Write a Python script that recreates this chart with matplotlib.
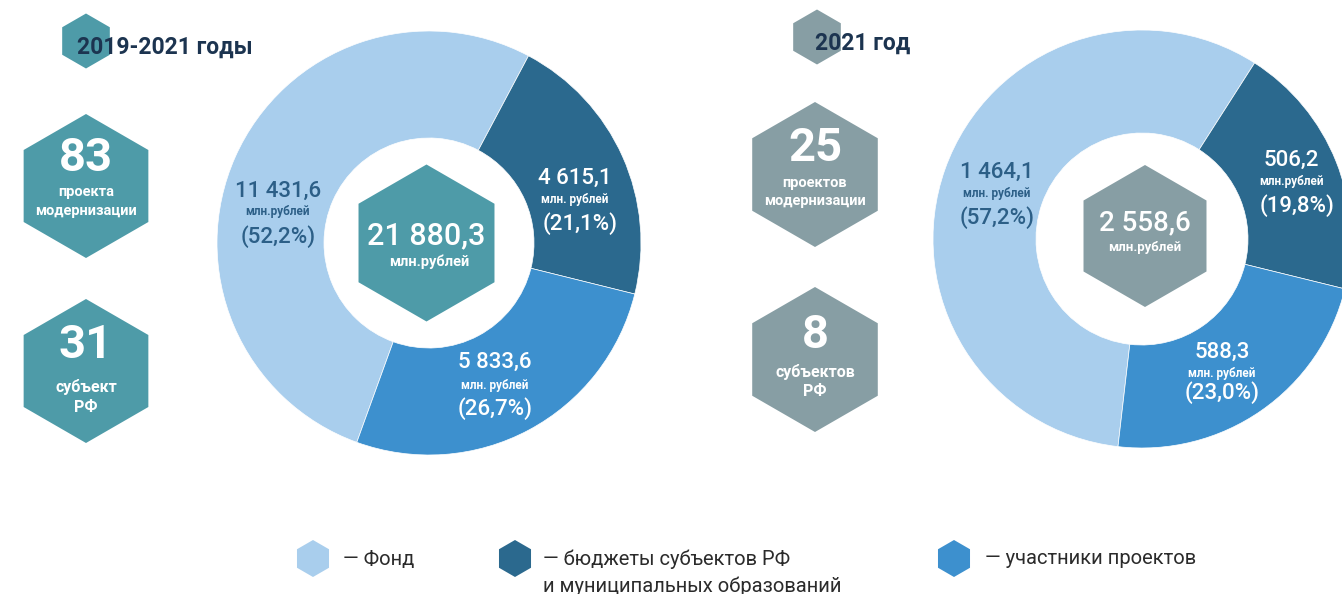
import matplotlib
matplotlib.use("Agg")
import matplotlib.pyplot as plt
from matplotlib.patches import RegularPolygon

plt.rcParams['font.family'] = ['Roboto', 'DejaVu Sans']

# ---- data ----
categories = ["Фонд", "бюджеты субъектов РФ\nи муниципальных образований", "участники проектов"]
values_total = [11431.6, 4615.1, 5833.6]
labels_total = ["11 431,6", "4 615,1", "5 833,6"]
units_total = ["млн.рублей", "млн. рублей", "млн. рублей"]
pct_total = ["(52,2%)", "(21,1%)", "(26,7%)"]
sum_total = "21 880,3"

values_2021 = [1464.1, 506.2, 588.3]
labels_2021 = ["1 464,1", "506,2", "588,3"]
units_2021 = ["млн. рублей", "млн.рублей", "млн. рублей"]
pct_2021 = ["(57,2%)", "(19,8%)", "(23,0%)"]
sum_2021 = "2 558,6"

title_total = "2019-2021 годы"
title_2021 = "2021 год"
projects_total, projects_total_lbl = "83", ["проекта", "модернизации"]
regions_total, regions_total_lbl = "31", ["субъект", "РФ"]
projects_2021, projects_2021_lbl = "25", ["проектов", "модернизации"]
regions_2021, regions_2021_lbl = "8", ["субъектов", "РФ"]

# ---- style ----
C_LIGHT = "#A9CEED"
C_DARK = "#2B698E"
C_MID = "#3D90CE"
C_TEAL = "#4E9BA8"
C_GRAY = "#879EA4"
C_TITLE = "#1C3450"
C_LBL = "#2C5F87"
colors = [C_LIGHT, C_DARK, C_MID]

W, H = 1342, 594
fig = plt.figure(figsize=(W / 100, H / 100), dpi=100)
ax = fig.add_axes([0, 0, 1, 1])


def Y(y):
    return H - y


def hexagon(x, y, r, color, z=2):
    ax.add_patch(RegularPolygon((x, Y(y)), 6, radius=r, orientation=0,
                                facecolor=color, edgecolor='none', zorder=z))


def txt(x, y, s, size, color='white', weight='bold', ha='center', z=5, **kw):
    ax.text(x, Y(y), s, fontsize=size, color=color, fontweight=weight,
            ha=ha, va='center', zorder=z, **kw)


# left donut: Fond wedge ends at ~62 deg
cxL, cyL, RL, rL = 429, 243, 212, 105
fracL = values_total[0] / sum(values_total)
ax.pie(values_total, colors=colors, startangle=62 + fracL * 360, counterclock=False,
       center=(cxL, Y(cyL)), radius=RL,
       wedgeprops=dict(width=RL - rL, edgecolor='white', linewidth=0.5))

cxR, cyR, RR, rR = 1142, 239, 209, 106
fracR = values_2021[0] / sum(values_2021)
ax.pie(values_2021, colors=colors, startangle=57.4 + fracR * 360, counterclock=False,
       center=(cxR, Y(cyR)), radius=RR,
       wedgeprops=dict(width=RR - rR, edgecolor='white', linewidth=0.5))

# center hexagons
hexagon(426.5, 243, 78.5, C_TEAL)
txt(426, 236, sum_total, 22, weight='medium')
txt(429, 262, "млн.рублей", 10.5)
hexagon(1145, 236, 71, C_GRAY)
txt(1145, 223, sum_2021, 20, weight='medium')
txt(1145, 247, "млн.рублей", 9.5)

# wedge labels
posL = [(278, 191, 212, 237), (575, 178, 200, 224), (495, 362, 385, 409)]
for i, (x, y1, y2, y3) in enumerate(posL):
    col = C_LBL if i == 0 else 'white'
    txt(x, y1, labels_total[i], 16, color=col, weight='medium')
    txt(x, y2, units_total[i], 8.5, color=col)
    txt(x + (5 if i == 1 else 0), y3, pct_total[i], 16, color=col, weight='medium')

posR = [(997, 172, 193, 218), (1291, 160, 181, 206), (1222, 352, 373, 393)]
for i, (x, y1, y2, y3) in enumerate(posR):
    col = C_LBL if i == 0 else 'white'
    txt(x, y1, labels_2021[i], 16, color=col, weight='medium')
    txt(x, y2, units_2021[i], 8.5, color=col)
    txt(x + (6 if i == 1 else 0), y3, pct_2021[i], 16, color=col, weight='medium')

# titles
hexagon(86, 41, 27.5, C_TEAL)
txt(77, 47, title_total, 16.5, color=C_TITLE, ha='left')
hexagon(817, 37, 27.5, C_GRAY)
txt(815, 43, title_2021, 16.5, color=C_TITLE, ha='left')

# side hexagons
def side_hex(x, y, r, color, num, num_y, lines, line_ys, size):
    hexagon(x, y, r, color)
    txt(x, num_y, num, 34)
    for s, ly in zip(lines, line_ys):
        txt(x, ly, s, size)

side_hex(86, 186, 72, C_TEAL, projects_total, 158, projects_total_lbl, [192, 211], 10.5)
side_hex(86, 371, 72, C_TEAL, regions_total, 345, regions_total_lbl, [387, 407], 11.5)
side_hex(815, 174.5, 72.5, C_GRAY, projects_2021, 148, projects_2021_lbl, [183, 201], 10.5)
side_hex(815, 359.5, 72.5, C_GRAY, regions_2021, 335, regions_2021_lbl, [372, 392], 11.5)

# legend
leg_x = [313, 515, 954]
leg_tx = [343, 543, 985]
for i in range(3):
    hexagon(leg_x[i], 558.5, 18.5, colors[i])
    for j, line in enumerate(categories[i].split("\n")):
        s = ("— " + line) if j == 0 else line
        ax.text(leg_tx[i], Y(559 + 27 * j), s, fontsize=14.5, color="#2b2b2b",
                ha='left', va='center', zorder=5)

ax.set_xlim(0, W)
ax.set_ylim(0, H)
ax.set_aspect('auto')
ax.axis('off')
fig.savefig("out.png", dpi=100, facecolor='white')
